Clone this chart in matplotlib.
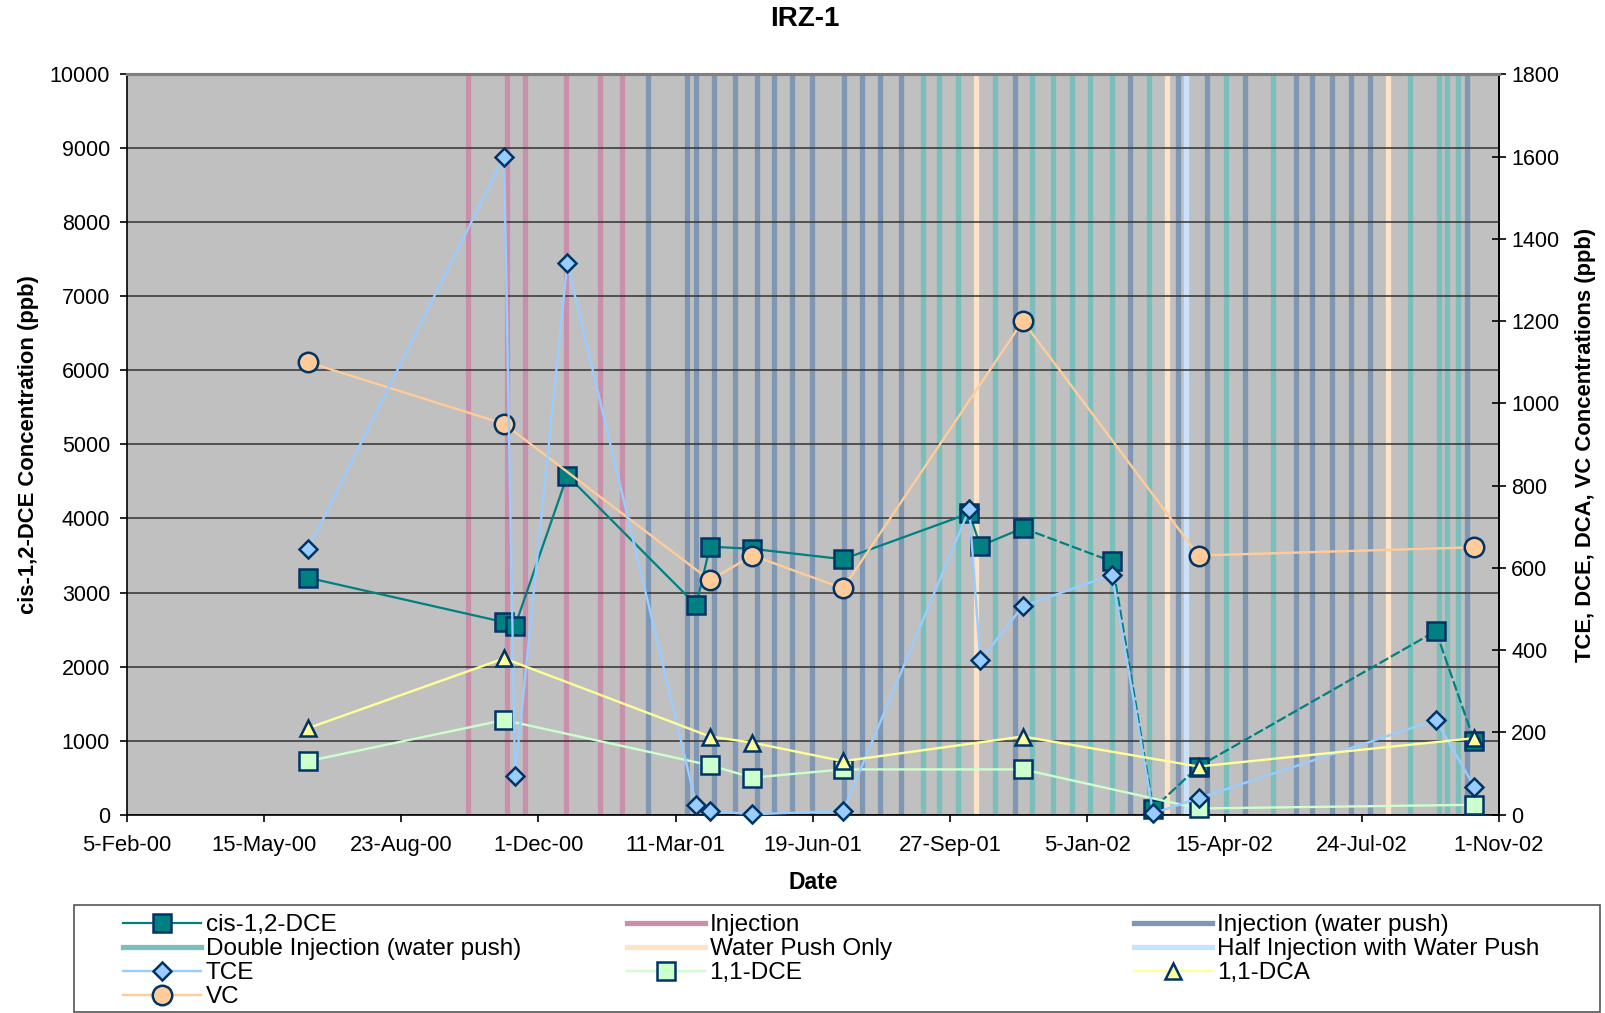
import matplotlib
matplotlib.use('Agg')
import matplotlib.pyplot as plt
import matplotlib.dates as mdates
from matplotlib.lines import Line2D
from matplotlib.patches import Rectangle
import pandas as pd

plt.rcParams['font.family'] = ['Liberation Sans', 'DejaVu Sans']

# ---------------- data ----------------
title = 'IRZ-1'
xtick_labels = ['5-Feb-00', '15-May-00', '23-Aug-00', '1-Dec-00', '11-Mar-01', '19-Jun-01',
                '27-Sep-01', '5-Jan-02', '15-Apr-02', '24-Jul-02', '1-Nov-02']
left_ticks = [0, 1000, 2000, 3000, 4000, 5000, 6000, 7000, 8000, 9000, 10000]
right_ticks = [0, 200, 400, 600, 800, 1000, 1200, 1400, 1600, 1800]

sample_dates = ['2000-06-16', '2000-11-06', '2000-11-14', '2000-12-22', '2001-03-26', '2001-04-05',
                '2001-05-06', '2001-07-11', '2001-10-11', '2001-10-19', '2001-11-19', '2002-01-23',
                '2002-02-22', '2002-03-27', '2002-09-16', '2002-10-14']
cis_dce = [3200, 2600, 2550, 4580, 2830, 3620, 3590, 3450, 4070, 3630, 3870, 3420, 80, 650, 2480, 990]
tce = [645, 1600, 95, 1340, 24, 9, 1, 9, 743, 375, 507, 583, 3, 40, 230, 68]
cis_dashed_from = 10   # index of the sample from which the cis-1,2-DCE line is dashed

other_dates = ['2000-06-16', '2000-11-06', '2001-04-05', '2001-05-06', '2001-07-11',
               '2001-11-19', '2002-03-27', '2002-10-14']
dce11 = [130, 230, 120, 90, 110, 110, 15, 24]
dca11 = [210, 380, 190, 175, 130, 190, 117, 186]
vc = [1100, 950, 570, 630, 550, 1200, 630, 650]

injection_dates = ['2000-10-11', '2000-11-08', '2000-11-21', '2000-12-21', '2001-01-15', '2001-01-31']
injection_wp_dates = ['2001-02-19', '2001-03-19', '2001-03-26', '2001-04-08', '2001-04-23', '2001-05-09',
                      '2001-05-22', '2001-06-04', '2001-06-18', '2001-07-12', '2001-07-25', '2001-08-07',
                      '2001-08-22', '2001-11-13', '2002-02-05', '2002-03-12', '2002-04-02', '2002-04-30',
                      '2002-06-06', '2002-06-18', '2002-07-02', '2002-07-16', '2002-07-30', '2002-10-09']
double_inj_dates = ['2001-09-07', '2001-09-19', '2001-10-03', '2001-10-30', '2001-11-26', '2001-12-11',
                    '2001-12-25', '2002-01-07', '2002-01-23', '2002-02-19', '2002-04-16', '2002-05-20',
                    '2002-08-28', '2002-09-18', '2002-09-24', '2002-10-02']
water_push_dates = ['2001-10-16', '2002-03-04', '2002-08-12']
half_inj_dates = ['2002-03-18']

# ---------------- styles ----------------
C_CIS, C_TCE, C_DCE, C_DCA, C_VC = '#008080', '#99CCFF', '#CCFFCC', '#FFFF99', '#FFCC99'
EDGE = '#003366'
C_INJ, C_INJWP, C_DBL, C_WP, C_HALF = '#C990AB', '#7F97B3', '#7ABFBC', '#FFE3C6', '#C8E2FF'


def dn(lst):
    return mdates.date2num(pd.to_datetime(lst))


xticks = dn(pd.to_datetime(xtick_labels, format='%d-%b-%y'))

fig = plt.figure(figsize=(16.06, 10.13), dpi=100)
ax = fig.add_axes([0.0789, 0.1958, 0.8545, 0.7309])
ax.set_facecolor('#C0C0C0')
ax.set_xlim(xticks[0], xticks[-1])
ax.set_ylim(0, 10000)
ax.set_axisbelow('line')
ax.yaxis.grid(True, color='#333333', lw=1.1)

bar_lw = 3.8
for dates, col in [(injection_dates, C_INJ), (injection_wp_dates, C_INJWP),
                   (double_inj_dates, C_DBL), (water_push_dates, C_WP), (half_inj_dates, C_HALF)]:
    for d in dn(dates):
        ax.axvline(d, color=col, lw=bar_lw, zorder=1)

xd = dn(sample_dates)
k = cis_dashed_from
ax.plot(xd[:k + 1], cis_dce[:k + 1], color=C_CIS, lw=1.6, zorder=4, clip_on=False)
ax.plot(xd[k:], cis_dce[k:], color=C_CIS, lw=1.6, zorder=4, clip_on=False,
        dashes=(4.5, 1.4))
l_cis, = ax.plot(xd, cis_dce, color=C_CIS, lw=1.6, ls='none', marker='s', ms=12.5,
                 mfc=C_CIS, mec=EDGE, mew=1.8, zorder=5, clip_on=False, label='cis-1,2-DCE')
h_cis = Line2D([], [], color=C_CIS, lw=1.6, marker='s', ms=12.5, mfc=C_CIS, mec=EDGE, mew=1.8)

ax.set_xticks(xticks)
ax.set_xticklabels(xtick_labels)
ax.set_yticks(left_ticks)
ax.tick_params(axis='x', direction='out', length=5, width=1.2, pad=10, labelsize=15.8)
ax.tick_params(axis='y', direction='out', length=5, width=1.2, pad=7, labelsize=15.5)

ax2 = ax.twinx()
ax2.set_ylim(0, 1800)
ax2.set_yticks(right_ticks)
ax2.tick_params(axis='y', direction='inout', length=9.5, width=1.2, pad=4, labelsize=15.5)

l_vc, = ax2.plot(dn(other_dates), vc, color=C_VC, lw=1.7, marker='o', ms=14,
                 mfc=C_VC, mec=EDGE, mew=1.8, zorder=3, clip_on=False, label='VC')
l_dce, = ax2.plot(dn(other_dates), dce11, color=C_DCE, lw=1.7, marker='s', ms=13,
                  mfc=C_DCE, mec=EDGE, mew=1.8, zorder=4, clip_on=False, label='1,1-DCE')
l_tce, = ax2.plot(dn(sample_dates), tce, color=C_TCE, lw=1.7, marker='D', ms=9,
                  mfc=C_TCE, mec=EDGE, mew=1.8, zorder=5, clip_on=False, label='TCE')
l_dca, = ax2.plot(dn(other_dates), dca11, color=C_DCA, lw=1.7, marker='^', ms=12,
                  mfc=C_DCA, mec=EDGE, mew=1.8, zorder=6, clip_on=False, label='1,1-DCA')

for a in (ax, ax2):
    a.spines['top'].set_color('#808080')
    a.spines['top'].set_linewidth(2.2)
for s in ('left', 'bottom', 'right'):
    ax.spines[s].set_linewidth(1.2)
    ax2.spines[s].set_linewidth(1.2)
ax2.spines['left'].set_visible(False)
ax2.spines['bottom'].set_visible(False)

fig.text(0.501, 1 - 19 / 1013, title, ha='center', va='center', fontsize=20, weight='bold')
fig.text(0.5062, 1 - 882 / 1013, 'Date', ha='center', va='center', fontsize=16.5, weight='bold')
fig.text(0.0175, 0.5612, 'cis-1,2-DCE Concentration (ppb)', rotation=90, ha='center', va='center',
         fontsize=15.8, weight='bold')
fig.text(0.987, 0.5612, 'TCE, DCE, DCA, VC Concentrations (ppb)', rotation=90, ha='center',
         va='center', fontsize=15.8, weight='bold')

# ---------------- legend ----------------
h_inj = Line2D([], [], color=C_INJ, lw=bar_lw)
h_injwp = Line2D([], [], color=C_INJWP, lw=bar_lw)
h_dbl = Line2D([], [], color=C_DBL, lw=bar_lw)
h_wp = Line2D([], [], color=C_WP, lw=bar_lw)
h_half = Line2D([], [], color=C_HALF, lw=bar_lw)

columns = [
    ([h_cis, h_dbl, l_tce, l_vc], ['cis-1,2-DCE', 'Double Injection (water push)', 'TCE', 'VC'], 0.0766),
    ([h_inj, h_wp, l_dce], ['Injection', 'Water Push Only', '1,1-DCE'], 0.3904),
    ([h_injwp, h_half, l_dca], ['Injection (water push)', 'Half Injection with Water Push', '1,1-DCA'], 0.7061),
]
for handles, labels, x0 in columns:
    fig.legend(handles, labels, loc='upper left', bbox_to_anchor=(x0, 0.0975), frameon=False,
               fontsize=17.5, handlelength=3.2, handletextpad=0.2, labelspacing=0.08,
               borderpad=0, borderaxespad=0, numpoints=1)

fig.patches.append(Rectangle((0.046, 0.001), 0.950, 0.1055, transform=fig.transFigure,
                             fill=False, edgecolor='#555555', lw=1.2))

fig.savefig('out.png', dpi=100)
